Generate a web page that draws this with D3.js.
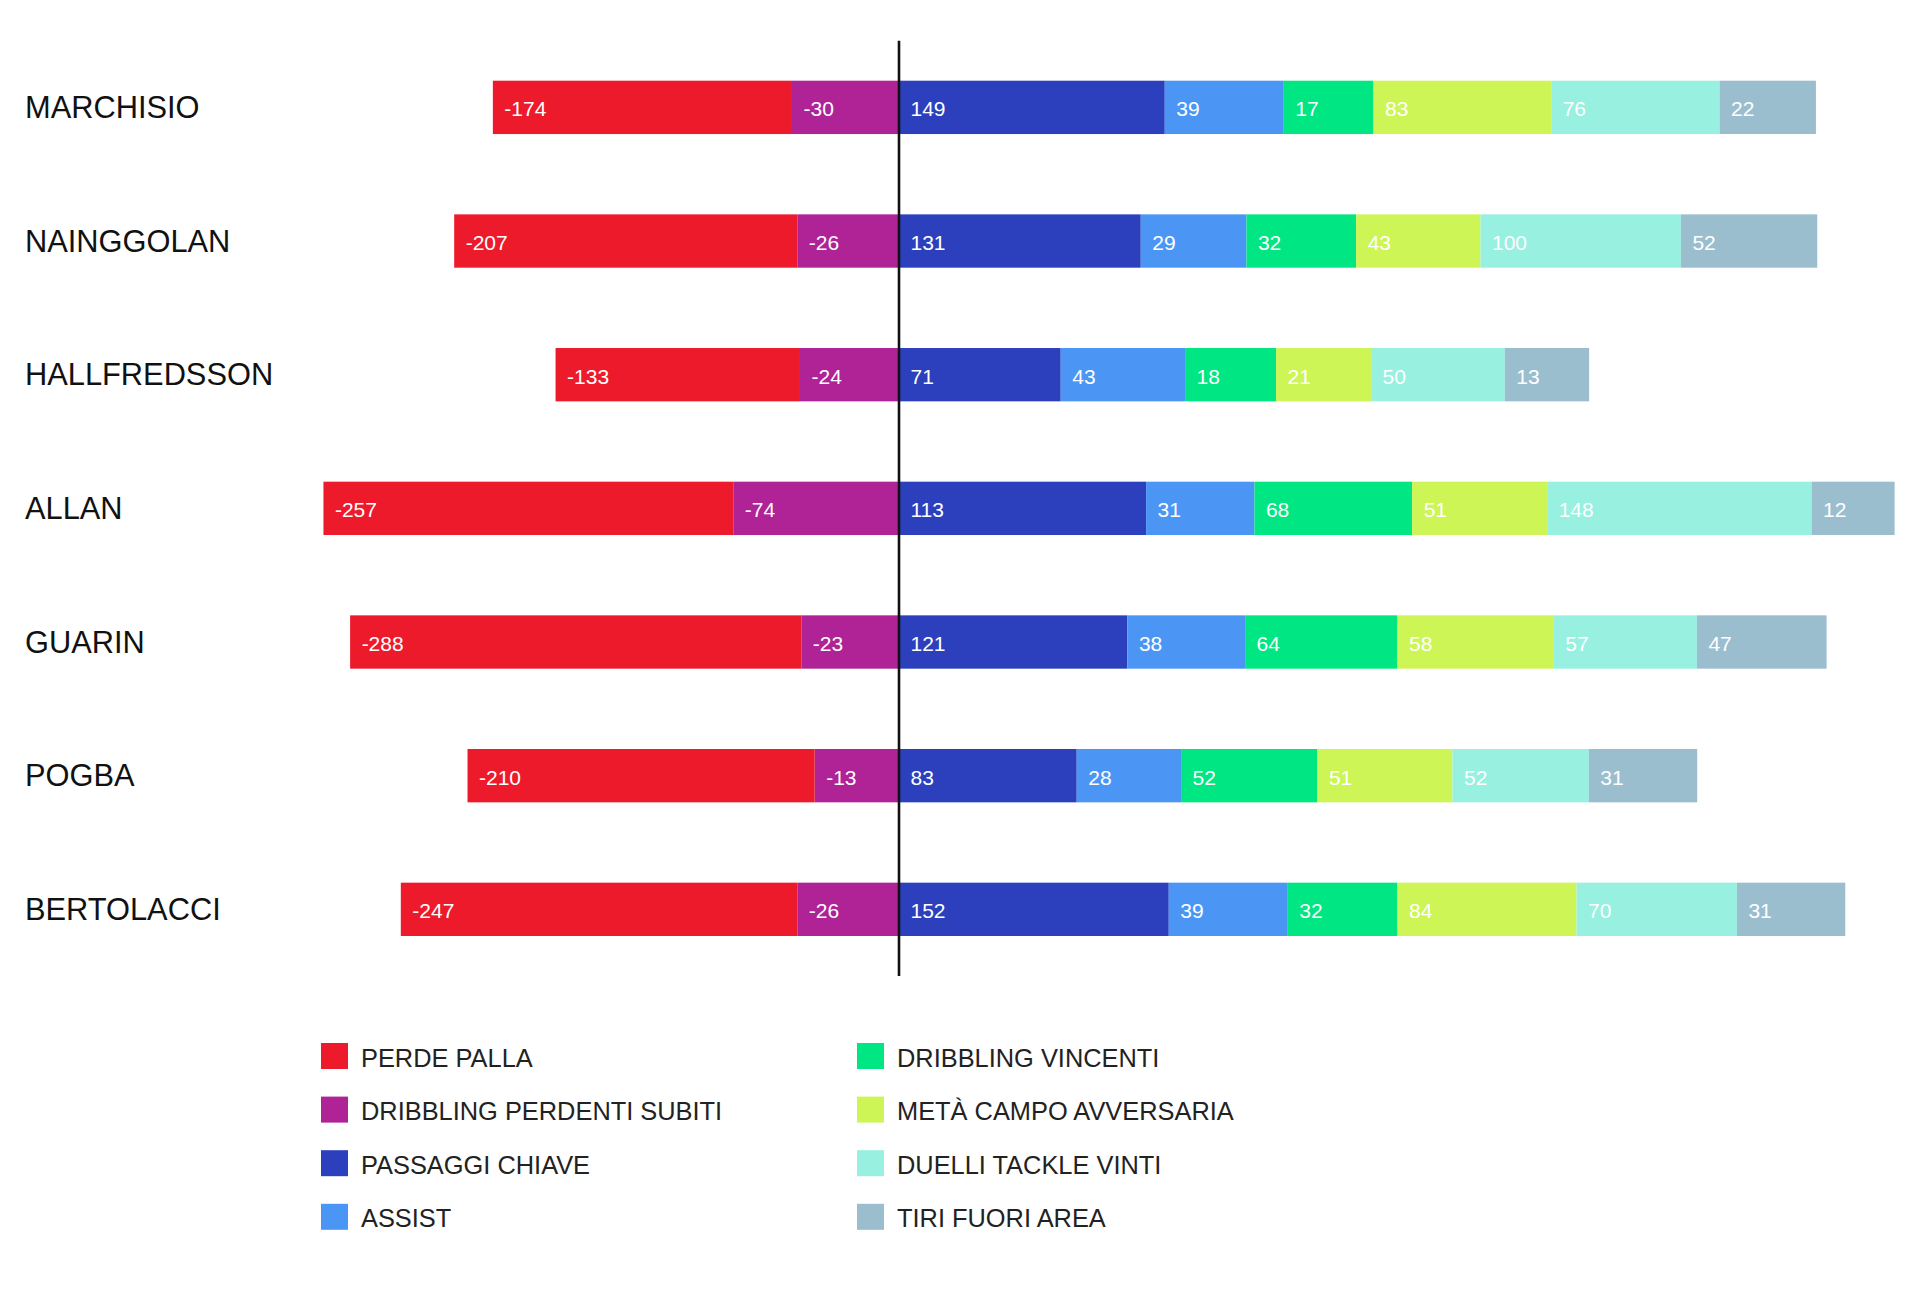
<!DOCTYPE html>
<html lang="it">
<head>
<meta charset="UTF-8">
<title>Centrocampisti</title>
<script src="https://d3js.org/d3.v7.min.js"></script>
<style>
  html, body { margin: 0; padding: 0; background: #fff; }
  svg { display: block; font-family: "Liberation Sans", Arial, Helvetica, sans-serif; }
  .name { font-size: 30.8px; fill: #111; }
  .val { font-size: 21px; fill: #fff; }
  .leg { font-size: 25.4px; fill: #222; }
</style>
</head>
<body>
<svg width="1920" height="1310"></svg>
<script>
const players = ["MARCHISIO", "NAINGGOLAN", "HALLFREDSSON", "ALLAN", "GUARIN", "POGBA", "BERTOLACCI"];

// negative side (drawn left of the axis)
const perdePalla       = [-174, -207, -133, -257, -288, -210, -247];
const dribblingPerdenti = [-30, -26, -24, -74, -23, -13, -26];

// positive side
const passaggiChiave = [149, 131, 71, 113, 121, 83, 152];
const assist         = [39, 29, 43, 31, 38, 28, 39];
const dribblingVinc  = [17, 32, 18, 68, 64, 52, 32];
const metaCampo      = [83, 43, 21, 51, 58, 51, 84];
const duelliTackle   = [76, 100, 50, 148, 57, 52, 70];
const tiriFuori      = [22, 52, 13, 12, 47, 31, 31];

// two bars in the source are drawn longer than their printed number
const drawnLength = { "ALLAN|PASSAGGI CHIAVE": 135, "GUARIN|METÀ CAMPO AVVERSARIA": 67 };

const leftSeries = [
  { name: "DRIBBLING PERDENTI SUBITI", values: dribblingPerdenti, color: "#af2396" },
  { name: "PERDE PALLA", values: perdePalla, color: "#ed1a2c" }
];
const rightSeries = [
  { name: "PASSAGGI CHIAVE", values: passaggiChiave, color: "#2c40bd" },
  { name: "ASSIST", values: assist, color: "#4b96f5" },
  { name: "DRIBBLING VINCENTI", values: dribblingVinc, color: "#00e682" },
  { name: "METÀ CAMPO AVVERSARIA", values: metaCampo, color: "#cdf555" },
  { name: "DUELLI TACKLE VINTI", values: duelliTackle, color: "#97f0e0" },
  { name: "TIRI FUORI AREA", values: tiriFuori, color: "#9bbecf" }
];
const legendOrder = [
  "PERDE PALLA", "DRIBBLING PERDENTI SUBITI", "PASSAGGI CHIAVE", "ASSIST",
  "DRIBBLING VINCENTI", "METÀ CAMPO AVVERSARIA", "DUELLI TACKLE VINTI", "TIRI FUORI AREA"
];

const svg = d3.select("svg");
const axisX = 899;

// every segment gets a minimum width plus a linear part
const w = d3.scaleLinear().domain([0, 100]).range([67, 67 + 133.4]);

const y = d3.scaleBand()
  .domain(players)
  .range([80.7, 936])
  .paddingInner(0.601)
  .paddingOuter(0);

const colorOf = {};
leftSeries.concat(rightSeries).forEach(s => colorOf[s.name] = s.color);

// build segments
const segs = [];
players.forEach((p, i) => {
  let x = axisX;
  rightSeries.forEach(s => {
    const v = s.values[i];
    const len = w(drawnLength[p + "|" + s.name] ?? Math.abs(v));
    segs.push({ player: p, name: s.name, value: v, x0: x, width: len, color: s.color });
    x += len;
  });
  x = axisX;
  leftSeries.forEach(s => {
    const v = s.values[i];
    const len = w(drawnLength[p + "|" + s.name] ?? Math.abs(v));
    x -= len;
    segs.push({ player: p, name: s.name, value: v, x0: x, width: len, color: s.color });
  });
});

const g = svg.append("g");

g.selectAll("rect.seg")
  .data(segs)
  .enter().append("rect")
  .attr("class", "seg")
  .attr("x", d => d.x0)
  .attr("y", d => y(d.player))
  .attr("width", d => d.width)
  .attr("height", y.bandwidth())
  .attr("fill", d => d.color);

g.selectAll("text.val")
  .data(segs)
  .enter().append("text")
  .attr("class", "val")
  .attr("x", d => d.x0 + 11.5)
  .attr("y", d => y(d.player) + y.bandwidth() / 2)
  .attr("dy", "0.43em")
  .text(d => d.value);

svg.selectAll("text.name")
  .data(players)
  .enter().append("text")
  .attr("class", "name")
  .attr("x", 25)
  .attr("y", d => y(d) + y.bandwidth() / 2)
  .attr("dy", "0.35em")
  .text(d => d);

// zero line
svg.append("line")
  .attr("x1", axisX).attr("x2", axisX)
  .attr("y1", 40.7).attr("y2", 976)
  .attr("stroke", "#111")
  .attr("stroke-width", 2.6);

// legend, two columns of four
const leg = svg.append("g").selectAll("g")
  .data(legendOrder)
  .enter().append("g")
  .attr("transform", (d, i) => `translate(${i < 4 ? 321 : 857}, ${1043 + (i % 4) * 53.6})`);

leg.append("rect")
  .attr("width", 27)
  .attr("height", 26)
  .attr("fill", d => colorOf[d]);

leg.append("text")
  .attr("class", "leg")
  .attr("x", 40)
  .attr("y", 23.5)
  .text(d => d);
</script>
</body>
</html>
